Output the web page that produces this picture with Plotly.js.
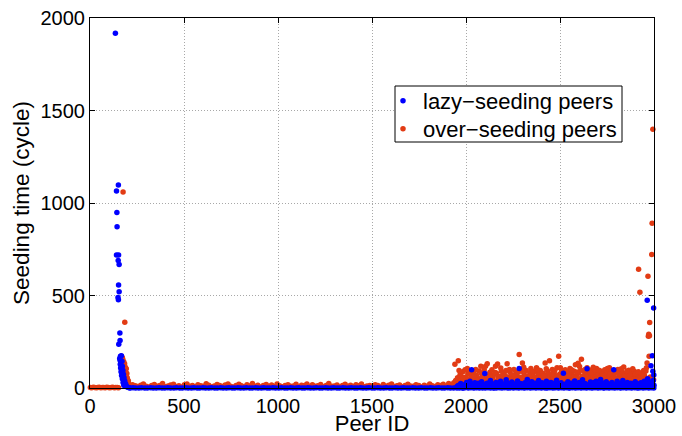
<!DOCTYPE html>
<html>
<head>
<meta charset="utf-8">
<script src="https://cdn.plot.ly/plotly-3.0.1.min.js"></script>
<style>html,body{margin:0;padding:0;background:#fff;}#chart{width:682px;height:436px;}</style>
</head>
<body>
<div id="chart"></div>
<script>
// ---- data: [peer ID, seeding time (cycle)] ----
const lazySpike = [[135,1918],[151,1097],[141,1065],[143,948],[144,872],[141,719],[152,719],[150,689],[155,667],[152,557],[155,520],[149,489],[151,477],[159,297],[160,257],[153,237],
 [162,171],[167,174],[158,160],[160,150],[164,140],[170,145],[161,128],[166,120],[172,118],[163,108],[169,100],[175,95],[165,88],[171,80],[178,75],[168,68],[174,60],[181,55],[172,50],[179,42],[185,38],[176,30],[183,25],[190,22],[180,15],[187,10],[194,8],[198,5],[204,3],[210,2]];

const lazyBase = [[214,0],[229,1],[243,0],[260,0],[274,1],[291,0],[305,0],[322,1],[336,0],[352,0],[367,1],[383,0],[398,0],[414,1],[429,0],[446,0],[460,1],[477,0],[491,0],[508,1],[522,0],[539,0],[553,1],[570,0],[584,0],[601,1],[615,0],[632,0],[646,1],[663,0],[677,0],[694,1],[708,0],[725,0],[739,1],[756,0],[770,0],[787,1],[801,0],[818,0],[832,1],[849,0],[863,0],[880,1],[894,0],[911,0],[925,1],[942,0],[956,0],[973,1],[987,0],[1004,0],[1018,1],[1035,0],[1049,0],[1066,1],[1080,0],[1097,0],[1111,1],[1128,0],[1142,0],[1159,1],[1173,0],[1190,0],[1204,1],[1221,0],[1235,0],[1252,1],[1266,0],[1283,0],[1297,1],[1314,0],[1328,0],[1345,1],[1359,0],[1376,0],[1390,1],[1407,0],[1421,0],[1438,1],[1452,0],[1469,0],[1483,1],[1500,0],[1514,0],[1531,1],[1545,0],[1562,0],[1576,1],[1593,0],[1607,0],[1624,1],[1638,0],[1655,0],[1669,1],[1686,0],[1700,0],[1717,1],[1731,0],[1748,0],[1762,1],[1779,0],[1793,0],[1810,1],[1824,0],[1841,0],[1855,1],[1872,0],[1886,0],[1903,1],[1917,0],[1934,0],
 [1952,0],[1966,1],[1981,0],[1995,2],[2012,0],[2026,1],[2041,0],[2057,2],[2071,0],[2086,1],[2102,0],[2117,2],[2131,0],[2147,1],[2161,0],[2177,2],[2191,0],[2206,1],[2222,0],[2236,2],[2252,0],[2267,1],[2281,0],[2297,2],[2311,0],[2326,1],[2342,0],[2356,2],[2372,0],[2387,1],[2401,0],[2417,2],[2431,0],[2446,1],[2462,0],[2476,2],[2492,0],[2507,1],[2521,0],[2537,2],[2551,0],[2566,1],[2582,0],[2596,2],[2612,0],[2627,1],[2641,0],[2657,2],[2671,0],[2686,1],[2702,0],[2716,2],[2732,0],[2747,1],[2761,0],[2777,2],[2791,0],[2806,1],[2822,0],[2836,2],[2852,0],[2867,1],[2881,0],[2897,2],[2911,0],[2926,1],[2942,0],[2956,2],[2972,0],[2986,1],[2999,0]];

const lazyDense = [[1950,5],[1958,14],[1965,2],[1972,24],[1978,8],[1985,0],[1991,18],[1997,10],[2003,30],[2009,5],[2015,16],[2021,36],[2027,6],[2030,99],[2035,20],[2041,9],[2047,28],[2053,3],[2059,16],[2065,26],[2071,6],[2077,12],[2083,34],[2089,2],[2095,20],[2100,78],[2106,10],[2112,26],[2118,5],[2124,16],[2130,40],[2136,8],[2142,22],[2148,0],[2154,14],[2160,30],[2166,8],[2172,20],[2178,4],[2184,36],[2190,12],[2196,22],[2202,6],[2208,16],[2214,44],[2220,8],[2226,26],[2232,2],[2238,18],[2244,32],[2250,10],[2256,22],[2262,4],[2268,14],[2274,38],[2283,106],[2278,6],[2290,24],[2296,10],[2302,18],[2308,3],[2314,28],[2320,12],[2326,46],[2332,6],[2338,20],[2344,8],[2350,34],[2356,16],[2362,4],[2368,26],[2374,10],[2380,18],[2386,40],[2392,5],[2398,14],[2404,28],[2410,8],[2416,22],[2422,2],[2428,36],[2434,12],[2440,18],[2446,6],[2452,30],[2458,10],[2464,24],[2470,3],[2476,16],[2482,42],[2488,8],[2494,20],[2500,4],[2506,28],[2512,12],[2518,80],[2524,7],[2530,22],[2536,10],[2542,34],[2548,2],[2554,18],[2560,26],[2566,8],[2572,14],[2578,38],[2584,5],[2590,20],[2596,10],[2602,30],[2608,4],[2614,16],[2620,44],[2626,8],[2632,24],[2638,12],[2644,104],[2650,6],[2656,18],[2662,32],[2668,3],[2674,14],[2680,28],[2686,10],[2692,36],[2698,5],[2704,20],[2710,12],[2716,46],[2722,8],[2728,24],[2734,2],[2740,16],[2746,34],[2752,8],[2758,22],[2764,4],[2770,14],[2776,30],[2786,99],[2782,10],[2792,18],[2798,6],[2804,36],[2810,12],[2816,24],[2822,3],[2828,18],[2834,40],[2840,8],[2846,20],[2852,10],[2858,30],[2864,4],[2870,14],[2876,26],[2882,8],[2888,18],[2894,5],[2900,34],[2906,12],[2912,22],[2918,2],[2924,16],[2930,28],[2936,8],[2942,20],[2948,36],[2954,10],[2958,18],[2962,26],[2964,475],[2966,50],[2970,14],[2975,34],[2980,8],[2984,120],[2988,24],[2991,174],[2994,90],[2996,40],[2998,432],[3000,15],
 [1955,8],[1968,16],[1982,10],[1994,4],[2006,18],[2018,8],[2032,12],[2044,3],[2056,22],[2068,10],[2080,16],[2092,6],[2104,14],[2115,24],[2127,5],[2139,12],[2151,20],[2163,4],[2175,10],[2187,18],[2199,8],[2211,24],[2223,14],[2235,4],[2247,18],[2259,10],[2271,22],[2285,6],[2299,14],[2311,24],[2323,4],[2335,12],[2347,20],[2359,8],[2371,16],[2383,5],[2395,22],[2407,10],[2419,16],[2431,3],[2443,20],[2455,14],[2467,8],[2479,24],[2491,12],[2503,5],[2515,18],[2527,10],[2539,22],[2551,6],[2563,14],[2575,24],[2587,8],[2599,18],[2611,4],[2623,14],[2635,22],[2647,10],[2659,16],[2671,6],[2683,20],[2695,12],[2707,5],[2719,16],[2731,26],[2743,8],[2755,14],[2767,4],[2779,20],[2789,10],[2801,22],[2813,6],[2825,14],[2837,26],[2849,4],[2861,16],[2873,8],[2885,22],[2897,12],[2909,5],[2921,20],[2933,10],[2945,14],[2952,24],[2960,4],[2968,14],[2978,22],[2986,8],[2993,16],[2999,70]];

const overSpike = [[2,3],[9,2],[17,4],[25,3],[33,2],[41,3],[49,4],[57,2],[65,3],[73,3],[81,2],[89,4],[97,3],[105,2],[113,3],[121,4],[129,2],[137,3],[145,3],[152,2],
 [176,1059],[185,356],[166,171],[172,165],[175,153],[180,140],[184,131],[178,120],[188,112],[193,104],[186,95],[190,85],[196,78],[192,65],[198,55],[200,45],[204,38],[202,28],[207,20],[212,12],[218,8]];

const overNoise = [[226,18],[241,12],[255,8],[270,15],[284,22],[299,10],[313,6],[328,14],[342,19],[357,9],[371,13],[386,24],[400,7],[415,11],[429,16],[444,20],[458,8],[473,12],[487,5],[502,17],[516,21],[531,10],[545,14],[560,7],[574,18],[589,12],[603,9],[618,23],[632,15],[647,6],[661,11],[676,19],[690,13],[705,8],[719,16],[734,22],[748,10],[763,5],[777,14],[792,20],[806,12],[821,7],[835,17],[850,11],[864,25],[879,9],[893,15],[908,6],[922,13],[937,19],[951,10],[966,16],[980,8],[995,21],[1009,12],[1024,7],[1038,14],[1053,18],[1067,9],[1082,11],[1096,20],[1111,6],[1125,15],[1140,13],[1154,22],[1169,8],[1183,17],[1198,10],[1212,12],[1227,19],[1241,7],[1256,14],[1270,24],[1285,9],[1299,11],[1314,16],[1328,6],[1343,13],[1357,20],[1372,10],[1386,15],[1401,8],[1415,18],[1430,12],[1444,22],[1459,7],[1473,11],[1488,14],[1502,9],[1517,17],[1531,13],[1546,6],[1560,19],[1575,10],[1589,15],[1604,21],[1618,8],[1633,12],[1647,16],[1662,7],[1676,14],[1691,20],[1705,11],[1720,9],[1734,18],[1749,13],[1763,6],[1778,15],[1792,10],[1807,22],[1821,12],[1836,8],[1850,17],[1865,14],[1879,20],[1894,9],[1908,24],[1922,15],[1935,28]];

const overDense = [[1941,129],[1945,40],[1950,20],[1955,55],[1959,147],[1962,30],[1968,70],[1972,15],[1978,45],[1983,88],[1988,25],[1995,99],[2000,60],[2005,35],[2010,78],[2016,82],[2020,20],[2025,50],[2030,65],[2035,30],[2040,86],[2045,40],[2050,12],[2055,70],[2060,55],[2065,25],[2070,92],[2075,45],[2079,118],[2084,60],[2090,30],[2095,75],[2100,50],[2104,118],[2108,22],[2113,131],[2118,65],[2122,40],[2127,85],[2132,18],[2138,99],[2142,55],[2147,72],[2152,35],[2157,118],[2162,80],[2168,130],[2173,45],[2178,62],[2183,28],[2188,90],[2193,52],[2198,75],[2203,15],[2208,68],[2213,95],[2219,131],[2224,42],[2229,60],[2234,85],[2240,25],[2245,70],[2250,50],[2255,100],[2260,38],[2265,78],[2270,20],[2276,62],[2283,181],[2288,48],[2294,90],[2300,135],[2305,30],[2310,72],[2315,55],[2320,95],[2325,40],[2330,65],[2335,18],[2340,82],[2345,105],[2350,48],[2355,70],[2360,30],[2365,88],[2370,58],[2375,110],[2380,22],[2385,75],[2390,45],[2395,95],[2400,60],[2405,35],[2410,80],[2415,52],[2421,135],[2425,68],[2430,25],[2435,90],[2440,48],[2444,147],[2449,72],[2454,38],[2459,100],[2464,58],[2469,82],[2474,20],[2479,65],[2484,110],[2489,45],[2493,171],[2498,75],[2503,30],[2508,92],[2513,55],[2518,70],[2523,40],[2528,98],[2533,62],[2538,25],[2543,85],[2548,50],[2553,105],[2558,35],[2563,78],[2568,58],[2573,92],[2578,42],[2582,126],[2587,68],[2592,30],[2596,134],[2600,80],[2605,50],[2610,96],[2614,156],[2619,62],[2624,28],[2629,88],[2634,45],[2639,72],[2644,110],[2649,38],[2654,85],[2659,55],[2664,20],[2669,98],[2674,65],[2679,40],[2684,82],[2689,58],[2694,105],[2699,30],[2704,75],[2709,48],[2714,92],[2719,62],[2724,25],[2729,80],[2733,52],[2738,99],[2743,70],[2748,35],[2753,88],[2758,58],[2763,110],[2768,42],[2773,95],[2778,65],[2783,28],[2788,78],[2793,50],[2798,90],[2803,38],[2808,100],[2813,60],[2815,96],[2820,72],[2825,45],[2830,85],[2835,22],[2839,113],[2844,58],[2849,80],[2854,40],[2859,70],[2866,96],[2870,50],[2875,30],[2880,82],[2885,62],[2890,45],[2895,90],[2900,55],[2905,25],[2910,75],[2915,40],[2920,60],[2925,518],[2918,642],[2930,35],[2935,80],[2940,50],[2945,95],[2950,65],[2955,40],[2960,110],[2963,135],[2968,604],[2970,280],[2972,290],[2974,171],[2976,282],[2977,354],[2980,60],[2985,30],[2988,721],[2990,890],[2994,1398],[2998,45],
 [1960,10],[1975,8],[1990,12],[2003,18],[2018,10],[2033,14],[2048,8],[2063,16],[2078,10],[2093,20],[2107,12],[2121,8],[2136,15],[2150,10],[2166,22],[2180,12],[2196,8],[2211,18],[2227,10],[2243,14],[2258,20],[2273,8],[2290,15],[2308,10],[2323,22],[2338,12],[2353,8],[2368,18],[2383,10],[2398,14],[2413,20],[2428,8],[2446,15],[2461,10],[2477,22],[2492,12],[2506,8],[2521,18],[2536,10],[2551,15],[2566,20],[2581,8],[2598,14],[2613,10],[2627,22],[2642,12],[2657,8],[2672,18],[2687,10],[2702,15],[2717,20],[2732,8],[2747,14],[2762,10],[2776,22],[2791,12],[2806,8],[2822,18],[2837,10],[2852,15],[2867,20],[2882,8],[2897,14],[2912,10],[2928,18],[2943,12],[2958,8],
 [1963,95],[1976,62],[1992,40],[2007,105],[2023,88],[2038,58],[2052,100],[2068,36],[2082,80],[2097,98],[2111,48],[2125,62],[2140,28],[2155,84],[2170,60],[2185,108],[2200,44],[2215,58],[2231,100],[2247,35],[2262,66],[2278,88],[2292,58],[2307,112],[2322,42],[2337,64],[2352,92],[2367,36],[2382,98],[2397,52],[2412,66],[2427,104],[2442,40],[2457,76],[2472,94],[2487,62],[2502,110],[2516,36],[2531,82],[2546,64],[2561,98],[2576,30],[2590,86],[2604,116],[2618,44],[2633,100],[2647,62],[2662,80],[2677,112],[2692,44],[2707,96],[2722,66],[2737,40],[2752,106],[2766,76],[2781,92],[2796,56],[2811,80],[2826,104],[2841,64],[2856,92],[2872,68],[2887,104],[2902,76],[2917,88],[2932,52],[2947,74],[2957,92],
 [1970,30],[1985,52],[2000,28],[2014,48],[2028,34],[2043,60],[2058,40],[2073,28],[2088,50],[2102,34],[2116,44],[2130,26],[2145,40],[2160,32],[2175,48],[2190,36],[2205,30],[2220,52],[2236,40],[2252,30],[2268,46],[2284,34],[2298,52],[2313,32],[2328,48],[2343,30],[2358,44],[2373,34],[2388,56],[2403,28],[2418,42],[2433,50],[2448,30],[2463,44],[2478,36],[2494,52],[2508,32],[2524,48],[2539,36],[2554,28],[2569,44],[2584,52],[2599,32],[2616,40],[2631,30],[2646,50],[2661,36],[2676,28],[2691,46],[2706,34],[2721,44],[2736,56],[2751,30],[2766,42],[2780,36],[2795,30],[2810,46],[2824,34],[2840,42],[2855,30],[2870,38],[2884,46],[2899,30],[2914,44],[2928,36],[2942,28]];

const xTicks = [0,500,1000,1500,2000,2500,3000];
const yTicks = [0,500,1000,1500,2000];
const seriesNames = ['lazy\u2212seeding peers','over\u2212seeding peers'];

// ---- build traces ----
const lazy = lazySpike.concat(lazyBase, lazyDense);
const over = overSpike.concat(overNoise, overDense);
const BLUE = '#0000ff', RED = '#e23b14';
const FONT = 'Liberation Sans, Arial, Helvetica, sans-serif';

// over-seeding drawn first so lazy-seeding dots sit on top (as in the reference)
const traces = [
  {type:'scatter', mode:'markers', name:seriesNames[1], legend:'legend2', x:over.map(p=>p[0]), y:over.map(p=>p[1]),
   marker:{color:RED, size:5.5}, cliponaxis:false},
  {type:'scatter', mode:'markers', name:seriesNames[0], legend:'legend', x:lazy.map(p=>p[0]), y:lazy.map(p=>p[1]),
   marker:{color:BLUE, size:5.5}, cliponaxis:false}
];

const axisCommon = {
  showline:true, linecolor:'#000', linewidth:1, mirror:'ticks',
  ticks:'inside', ticklen:5, tickcolor:'#000', tickwidth:1,
  showgrid:true, gridcolor:'#a8a8a8', griddash:'1px,2px', gridwidth:1,
  zeroline:false, tickfont:{family:FONT, size:20, color:'#000'}
};

const legendCommon = {xanchor:'left', yanchor:'middle', bgcolor:'rgba(0,0,0,0)', borderwidth:0,
  font:{family:FONT, size:22, color:'#000'}, itemwidth:30};

const layout = {
  width:682, height:436,
  margin:{l:90, r:28, t:18, b:48},
  paper_bgcolor:'#fff', plot_bgcolor:'#fff',
  font:{family:FONT, color:'#000'},
  showlegend:true,
  xaxis:Object.assign({}, axisCommon, {range:[0,3000], tickvals:xTicks, ticktext:xTicks.map(String),
    title:{text:'Peer ID', font:{family:FONT, size:22}, standoff:3}}),
  yaxis:Object.assign({}, axisCommon, {range:[0,2000], tickvals:yTicks, ticktext:yTicks.map(String),
    title:{text:'Seeding time (cycle)', font:{family:FONT, size:22.5}, standoff:4}}),
  legend:Object.assign({}, legendCommon, {x:(383-90)/564, y:(388-101)/370}),
  legend2:Object.assign({}, legendCommon, {x:(383-90)/564, y:(388-129)/370}),
  shapes:[{type:'rect', xref:'paper', yref:'paper', layer:'above',
    x0:(395-90)/564, x1:(622-90)/564, y0:(388-142)/370, y1:(388-86)/370,
    line:{color:'#000', width:1}, fillcolor:'#fff'}]
};

Plotly.newPlot('chart', traces, layout, {displayModeBar:false, staticPlot:true});
</script>
</body>
</html>
